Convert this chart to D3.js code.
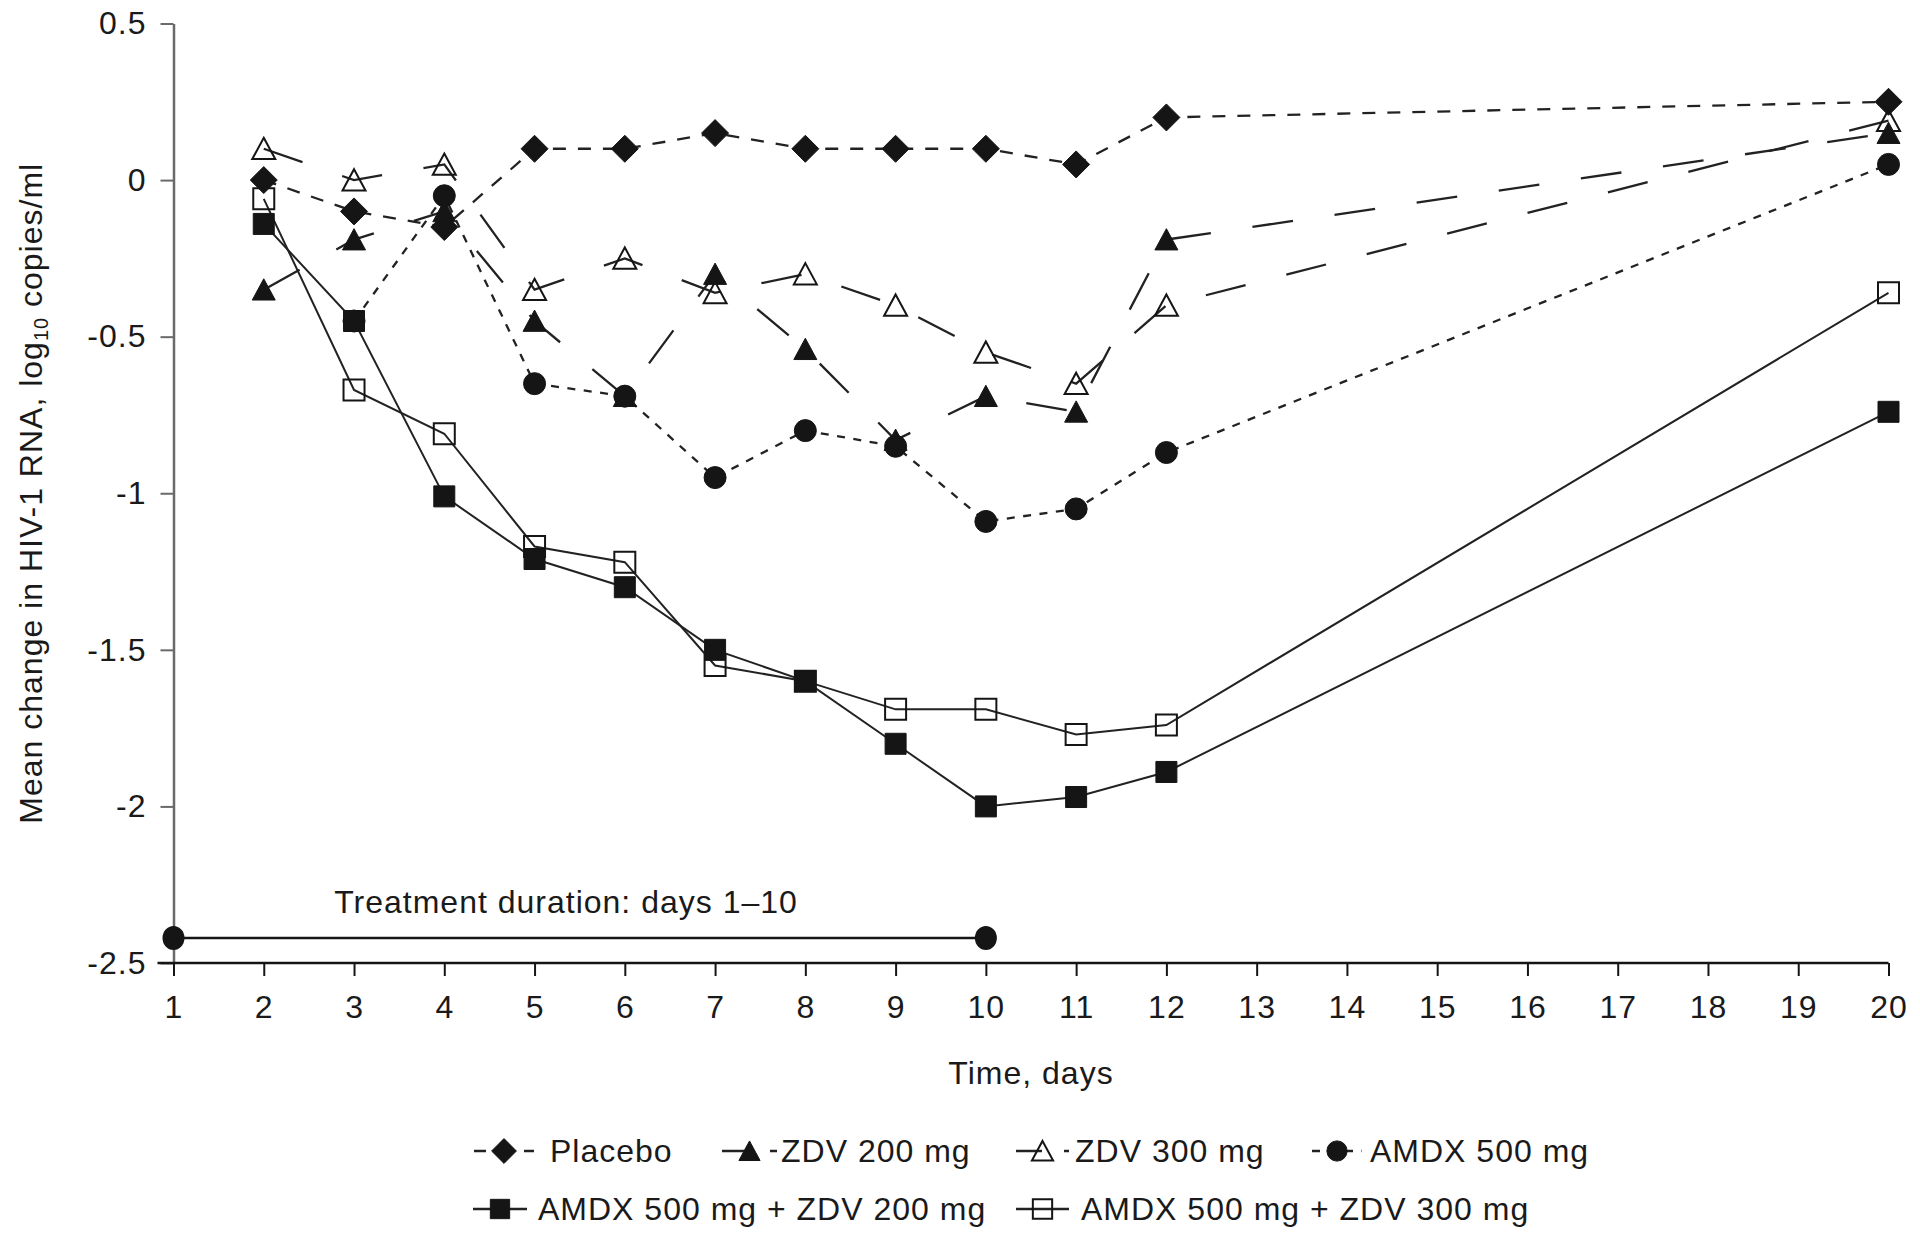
<!DOCTYPE html>
<html><head><meta charset="utf-8">
<script src="https://cdn.jsdelivr.net/npm/d3@7"></script>
<style>
html,body{margin:0;padding:0;background:#fff;}
svg{display:block;}
text{font-family:"Liberation Sans",Arial,Helvetica,sans-serif;fill:#1a1a1a;}
</style></head><body>
<svg id="chart" width="1920" height="1236"></svg>
<script>
// ---------- data ----------
const dayLabels = ["1","2","3","4","5","6","7","8","9","10","11","12","13","14","15","16","17","18","19","20"];
const days = ["2","3","4","5","6","7","8","9","10","11","12","20"];
const placebo    = [0.00, -0.10, -0.15,  0.10,  0.10,  0.15,  0.10,  0.10,  0.10,  0.05,  0.20,  0.25];
const zdv200     = [-0.35, -0.19, -0.10, -0.45, -0.69, -0.30, -0.54, -0.83, -0.69, -0.74, -0.19,  0.15];
const zdv300     = [0.10,  0.00,  0.05, -0.35, -0.25, -0.36, -0.30, -0.40, -0.55, -0.65, -0.40,  0.19];
const amdx500    = [null, -0.45, -0.05, -0.65, -0.69, -0.95, -0.80, -0.85, -1.09, -1.05, -0.87,  0.05];
const amdxZdv200 = [-0.14, -0.45, -1.01, -1.21, -1.30, -1.50, -1.60, -1.80, -2.00, -1.97, -1.89, -0.74];
const amdxZdv300 = [-0.06, -0.67, -0.81, -1.17, -1.22, -1.55, -1.60, -1.69, -1.69, -1.77, -1.74, -0.36];
const seriesNames = ["Placebo","ZDV 200 mg","ZDV 300 mg","AMDX 500 mg","AMDX 500 mg + ZDV 200 mg","AMDX 500 mg + ZDV 300 mg"];
const yTickValues = [0.5, 0, -0.5, -1, -1.5, -2, -2.5];
const yTickLabels = ["0.5","0","-0.5","-1","-1.5","-2","-2.5"];
const treatmentDays = ["1","10"];
const treatmentLevel = -2.42;
const treatmentLabel = "Treatment duration: days 1\u201310";
const xTitle = "Time, days";

// ---------- styles ----------
const styles = [
  {shape:"diamond",  filled:true,  dash:"13,12",  legendDash:"12,13"},
  {shape:"triangle", filled:true,  dash:"41,42",  legendDash:"26,22,7"},
  {shape:"triangle", filled:false, dash:"41,42",  legendDash:"26,22,7"},
  {shape:"circle",   filled:true,  dash:"8,8.5",  legendDash:"8,8.5"},
  {shape:"square",   filled:true,  dash:null,     legendDash:null},
  {shape:"square",   filled:false, dash:null,     legendDash:null}
];
const seriesValues = [placebo, zdv200, zdv300, amdx500, amdxZdv200, amdxZdv300];
const series = seriesNames.map((name,i)=>({
  name, ...styles[i],
  points: days.map((d,j)=>({day:d, v:seriesValues[i][j]}))
}));

const shapes = {
  diamond:{draw(c,r){c.moveTo(0,-r);c.lineTo(r,0);c.lineTo(0,r);c.lineTo(-r,0);c.closePath();}},
  triangle:{draw(c,r){c.moveTo(0,-r*0.95);c.lineTo(r,r*0.9);c.lineTo(-r,r*0.9);c.closePath();}},
  square:{draw(c,r){c.rect(-r,-r,2*r,2*r);}},
  circle:{draw(c,r){c.moveTo(r,0);c.arc(0,0,r,0,2*Math.PI);}}
};
const shapeSize = {diamond:13.5, triangle:11.5, square:10.5, circle:11};

const ink = "#151515";
const svg = d3.select("#chart");
const x = d3.scalePoint().domain(dayLabels).range([173.5, 1888.5]);
const y = d3.scaleLinear().domain([-2.5, 0.5]).range([963, 23.5]);
const fontCss = "font-size:32px;letter-spacing:1px;";

// ---------- y axis ----------
const gy = svg.append("g").attr("transform","translate(173.5,0)")
  .call(d3.axisLeft(y).tickValues(yTickValues).tickFormat((d,i)=>yTickLabels[i]).tickSize(13).tickSizeOuter(0).tickPadding(14));
gy.select(".domain").attr("stroke","#6a6a6a").attr("stroke-width",2.5);
gy.selectAll(".tick line").attr("stroke","#6a6a6a").attr("stroke-width",2);
gy.selectAll(".tick text").attr("style",fontCss).attr("fill","#1a1a1a");
gy.attr("font-family",null).attr("font-size",null);

// ---------- x axis ----------
const gx = svg.append("g").attr("transform","translate(0,963)")
  .call(d3.axisBottom(x).tickSize(13).tickSizeOuter(0));
gx.attr("font-family",null).attr("font-size",null);
gx.select(".domain").attr("d",`M${x("1")-16},0H${x("20")}`).attr("stroke",ink).attr("stroke-width",2.5);
gx.selectAll(".tick line").attr("stroke",ink).attr("stroke-width",2);
gx.selectAll(".tick text").attr("style",fontCss).attr("fill","#1a1a1a").attr("y",55).attr("dy",null);

// axis titles
svg.append("text").attr("x",(x("1")+x("20"))/2).attr("y",1084).attr("text-anchor","middle")
  .attr("style",fontCss).text(xTitle);
const yt = svg.append("text").attr("transform",`translate(42,${(y(0.5)+y(-2.5))/2}) rotate(-90)`)
  .attr("text-anchor","middle").attr("style",fontCss);
yt.append("tspan").text("Mean change in HIV-1 RNA, log");
yt.append("tspan").attr("font-size","20px").attr("dy",6).text("10");
yt.append("tspan").attr("dy",-6).text(" copies/ml");

// ---------- treatment bar ----------
svg.append("line").attr("x1",x(treatmentDays[0])).attr("x2",x(treatmentDays[1]))
  .attr("y1",y(treatmentLevel)).attr("y2",y(treatmentLevel)).attr("stroke",ink).attr("stroke-width",2.5);
svg.selectAll(".tcap").data(treatmentDays).join("ellipse").attr("class","tcap")
  .attr("cx",d=>x(d)).attr("cy",y(treatmentLevel)).attr("rx",11).attr("ry",12).attr("fill",ink);
svg.append("text").attr("x",566).attr("y",913).attr("text-anchor","middle").attr("style",fontCss).text(treatmentLabel);

// ---------- series ----------
const line = d3.line().defined(d=>d.v!=null).x(d=>x(d.day)).y(d=>y(d.v));
svg.append("g").selectAll("path").data(series).join("path")
  .attr("d",s=>line(s.points)).attr("fill","none").attr("stroke","#222")
  .attr("stroke-width",s=>s.dash?2.3:2).attr("stroke-dasharray",s=>s.dash);

const sym = d3.symbol().type(s=>shapes[s.shape]).size(s=>shapeSize[s.shape]);
const mg = svg.append("g");
series.forEach(s=>{
  mg.append("g").selectAll("path").data(s.points.filter(p=>p.v!=null)).join("path")
    .attr("transform",p=>`translate(${x(p.day)},${y(p.v)})`)
    .attr("d",()=>sym(s))
    .attr("fill",s.filled?ink:"none")
    .attr("stroke",ink).attr("stroke-width",s.filled?1:2);
});

// ---------- legend ----------
const legendPos = [
  {x0:474, x1:534, tx:550, row:0},
  {x0:722, x1:777, tx:781, row:0},
  {x0:1016, x1:1069, tx:1075, row:0},
  {x0:1312, x1:1362, tx:1370, row:0},
  {x0:473, x1:527, tx:538, row:1},
  {x0:1016, x1:1069, tx:1081, row:1}
];
const rowBase = [1162, 1220];
series.forEach((s,i)=>{
  const p = legendPos[i], b = rowBase[p.row], cy = b - 11;
  const g = svg.append("g");
  g.append("line").attr("x1",p.x0).attr("x2",p.x1).attr("y1",cy).attr("y2",cy)
    .attr("stroke","#222").attr("stroke-width",2.3).attr("stroke-dasharray",s.legendDash);
  g.append("path").attr("transform",`translate(${(p.x0+p.x1)/2},${cy})`)
    .attr("d",d3.symbol().type(shapes[s.shape]).size(shapeSize[s.shape]*0.92)())
    .attr("fill",s.filled?ink:"none").attr("stroke",ink).attr("stroke-width",s.filled?1:2);
  g.append("text").attr("x",p.tx).attr("y",b).attr("style",fontCss).text(s.name);
});
</script>
</body></html>
